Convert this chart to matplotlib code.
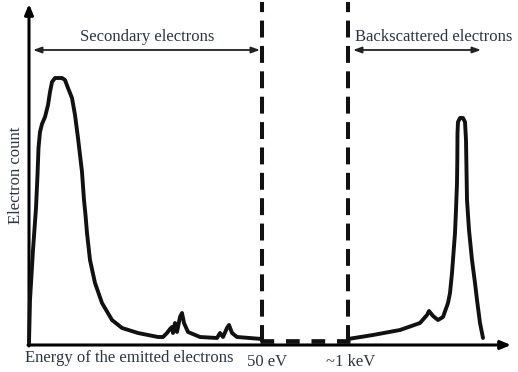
import matplotlib
matplotlib.use("Agg")
import matplotlib.pyplot as plt

# Secondary-electron part of the spectrum (energy position, electron count)
sec_energy = [29, 30, 33, 36, 37.5, 38.5, 40, 42, 45, 48, 50, 52, 55, 62, 65, 68,
              72, 75, 78, 82, 84, 85.5, 87, 90, 95, 102, 112, 122, 138, 158,
              163, 167, 170, 172, 173, 175, 177, 180, 182, 184,
              188, 200, 217, 220, 223, 227, 229, 232, 237, 262]
sec_count = [2, 45, 95, 137, 170, 197, 213, 221, 228, 240, 253, 263, 267, 267, 265, 257,
             247, 230, 207, 173, 145, 130, 112, 85, 62, 42, 25, 17, 12, 8,
             8, 12, 16, 18, 12, 22, 13, 28, 32, 22,
             13, 8, 7, 12, 8, 17, 20, 12, 8, 6]

# Gap region (axis break) between 50 eV and ~1 keV
gap_energy = [260, 350]
gap_count = [4.5, 4.5]

# Backscattered-electron part
bse_energy = [348, 373, 400, 420, 427, 429, 433, 438, 443, 448, 450, 452, 455, 456,
              457, 457.3, 457.5, 458, 460, 463, 465, 466, 466.5, 467, 469, 472,
              475, 477, 480, 483]
bse_count = [6, 10, 15, 22, 30, 34, 29, 25, 28, 42, 52, 72, 112, 135,
             162, 185, 212, 223, 227, 227, 223, 205, 175, 145, 115, 85,
             62, 45, 22, 7]

# Region boundaries
boundaries = [262, 348]
boundary_labels = ["50 eV", "~1 keV"]

text_color = "#2e3448"
serif = ["Liberation Serif", "DejaVu Serif"]

fig = plt.figure(figsize=(5.18, 3.72), dpi=100)
ax = fig.add_axes([0, 0, 1, 1])
ax.set_xlim(0, 518)
ax.set_ylim(-27, 345)
ax.axis("off")

# axes with arrows
ax.annotate("", xy=(29, 341), xytext=(29, -1),
            arrowprops=dict(arrowstyle="-|>,head_length=0.6,head_width=0.25",
                            lw=2.2, color="black", shrinkA=0, shrinkB=0))
ax.annotate("", xy=(511, 0), xytext=(28, 0),
            arrowprops=dict(arrowstyle="-|>,head_length=0.6,head_width=0.25",
                            lw=2.2, color="black", shrinkA=0, shrinkB=0))

# spectrum
ax.plot(sec_energy, sec_count, color="#111111", lw=2.8,
        solid_joinstyle="round", solid_capstyle="round", zorder=4)
ax.plot(bse_energy, bse_count, color="#111111", lw=2.8,
        solid_joinstyle="round", solid_capstyle="round", zorder=4)
ax.plot(gap_energy, gap_count, color="#111111", lw=3.4,
        linestyle=(0, (2.9, 2.5)), dash_capstyle="butt", zorder=5)

# vertical dashed boundaries
for b in boundaries:
    ax.plot([b, b], [3, 343], color="#111111", lw=2.9,
            linestyle=(0, (4.2, 2.1)), dash_capstyle="butt", zorder=5)

# range arrows
ax.annotate("", xy=(33, 295), xytext=(260, 295),
            arrowprops=dict(arrowstyle="<|-|>,head_length=0.5,head_width=0.18",
                            lw=1.3, color="#222222", shrinkA=0, shrinkB=0))
ax.annotate("", xy=(353, 295), xytext=(481, 295),
            arrowprops=dict(arrowstyle="<|-|>,head_length=0.5,head_width=0.18",
                            lw=1.3, color="#222222", shrinkA=0, shrinkB=0))

fs = 12
ax.text(147, 308, "Secondary electrons", ha="center", va="center",
        fontsize=fs, color=text_color, family=serif)
ax.text(355, 308, "Backscattered electrons", ha="left", va="center",
        fontsize=fs, color=text_color, family=serif)
ax.text(16, 170, "Electron count", ha="center", va="center", rotation=90,
        fontsize=fs, color=text_color, family=serif)
ax.text(25, -13, "Energy of the emitted electrons", ha="left", va="center",
        fontsize=fs, color=text_color, family=serif)
ax.text(247, -17, boundary_labels[0], ha="left", va="center",
        fontsize=fs, color=text_color, family=serif)
ax.text(326, -17, boundary_labels[1], ha="left", va="center",
        fontsize=fs, color=text_color, family=serif)

fig.savefig("out.png", dpi=100)
